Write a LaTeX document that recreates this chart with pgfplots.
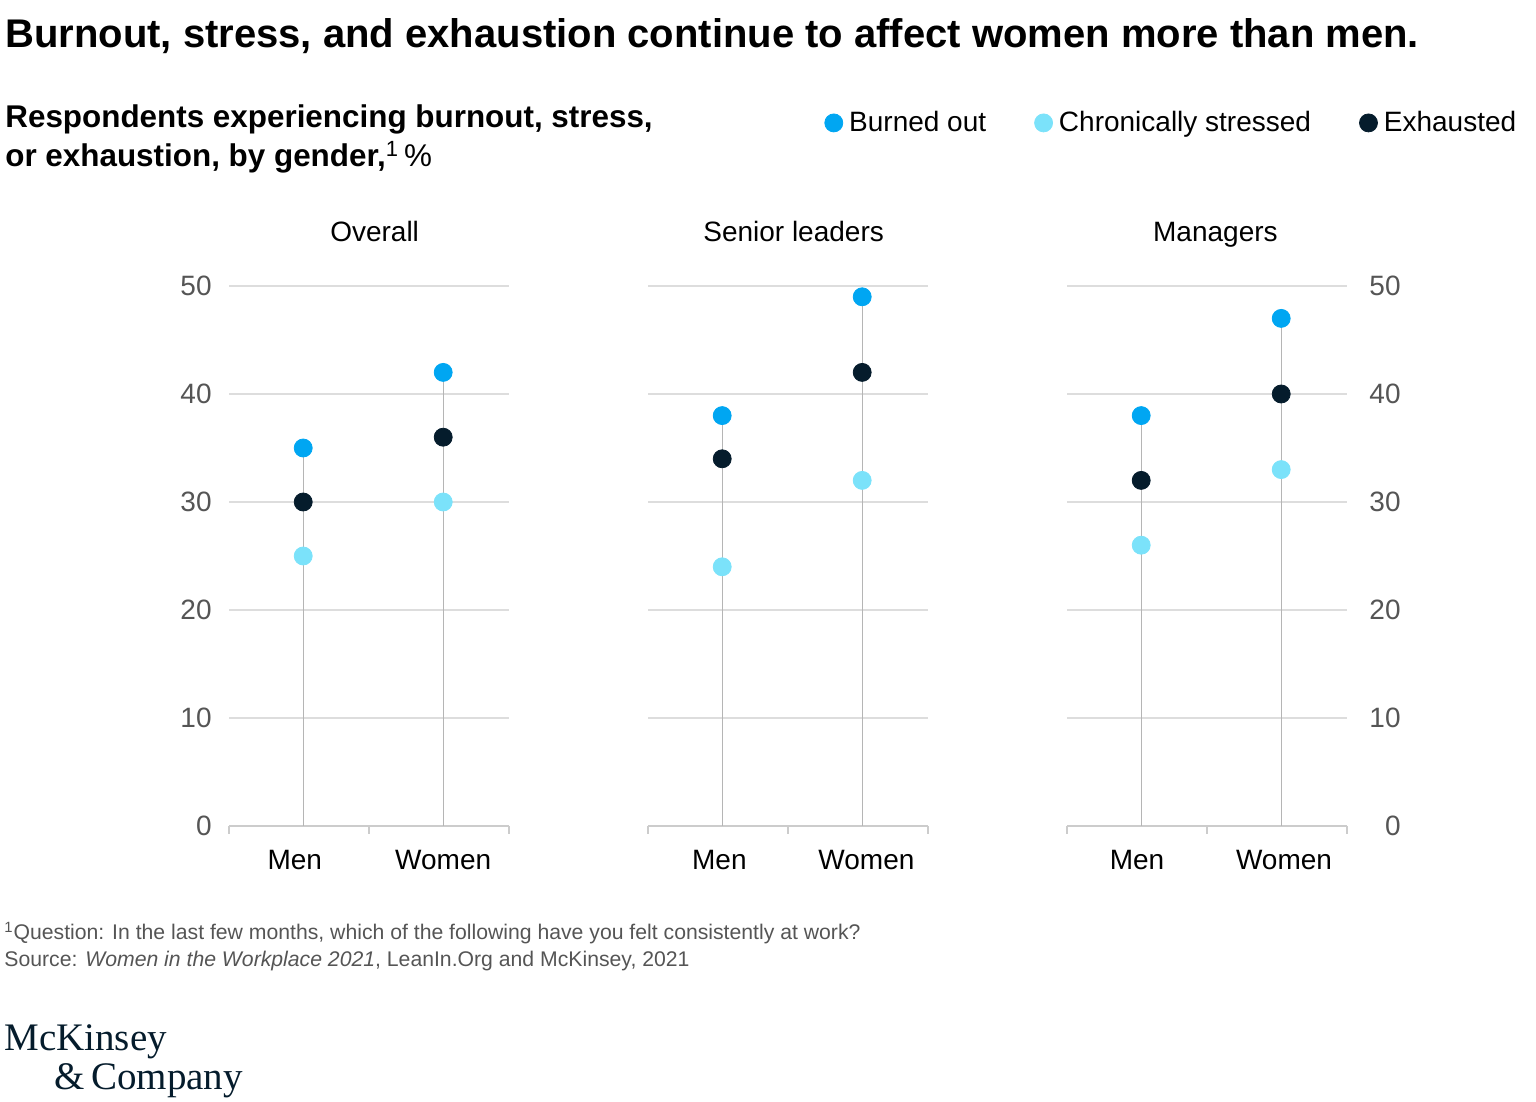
\documentclass[border=0pt]{standalone}
\usepackage{pgfplots}
\pgfplotsset{compat=1.18}
\usepackage{fontspec}
\setmainfont{Liberation Sans}
\newfontfamily\logofont{Liberation Serif}
\definecolor{burn}{HTML}{00A6F2}
\definecolor{stress}{HTML}{7BE2FA}
\definecolor{exh}{HTML}{051C2C}
\definecolor{gridc}{HTML}{DDDDDD}
\definecolor{stemc}{HTML}{B5B5B5}
\definecolor{ticklab}{HTML}{555555}
\definecolor{axc}{HTML}{CCCCCC}
\pgfplotsset{
  panel/.style={
    scale only axis, width=140pt, height=270pt,
    xmin=0, xmax=2, ymin=0, ymax=50, clip=false,
    axis x line*=bottom,
    y axis line style={draw=none},
    x axis line style={draw=axc, line width=0.6pt},
    xtick={0,1,2}, xticklabels={}, xtick align=outside,
    major tick length=4pt,
    xtick style={draw=axc, line width=0.6pt},
    ytick={0,10,20,30,40,50}, ytick style={draw=none},
    ymajorgrids, grid style={draw=gridc, line width=0.6pt},
    extra x tick labels={Men,Women},
    extra x tick style={major tick length=0pt, grid=none,
      xticklabel style={font=\fontsize{14}{16}\selectfont, text=black, anchor=north, inner sep=0pt, yshift=-12pt}},
    yticklabel style={font=\fontsize{14}{16}\selectfont, text=ticklab, inner sep=0pt},
    /pgf/number format/assume math mode=true,
    title style={font=\fontsize{14}{16}\selectfont, anchor=base, inner sep=0pt, yshift=16pt},
  },
  dot/.style={only marks, mark=*, mark size=4.5pt, color=#1},
  stem/.style={ycomb, no marks, draw=stemc, line width=0.6pt, forget plot},
}
\begin{document}
\begin{tikzpicture}
\path[use as bounding box] (0,0) rectangle (768pt,551pt);
\node[anchor=base west, inner sep=0pt, font=\bfseries\fontsize{20}{24}\selectfont] at (2.5pt,527pt) {Burnout, stress, and exhaustion continue to affect women more than men.};
\node[anchor=base west, inner sep=0pt, font=\bfseries\fontsize{15.7}{18}\selectfont] at (2.5pt,487pt) {Respondents experiencing burnout, stress,};
\node[anchor=base west, inner sep=0pt, font=\bfseries\fontsize{15.7}{18}\selectfont] at (2.5pt,467.5pt) {or exhaustion, by gender,\textsuperscript{\normalfont 1}\,{\normalfont\%}};

% Overall
\begin{axis}[panel, at={(114.5pt,138pt)}, anchor=south west,
  axis y line*=left,
  extra x ticks={0.47,1.53},
  title={Overall}, title style={at={(axis description cs:0.52,1)}},
  yticklabel style={anchor=east, xshift=-8.5pt},
  legend columns=3,
  legend style={at={(axis description cs:2.125,1.302)}, anchor=west,
    draw=none, fill=none, inner sep=0pt,
    font=\fontsize{14}{16}\selectfont,
    nodes={inner sep=0pt},
    /tikz/every odd column/.append style={column sep=3pt},
    /tikz/every even column/.append style={column sep=24pt}},
  legend image code/.code={\fill[#1] (4.5pt,0pt) circle (4.5pt);},
]
\addplot[stem] coordinates {(0.53,35) (1.53,42)};
\addplot[dot=burn] coordinates {(0.53,35) (1.53,42)};
\addplot[dot=stress] coordinates {(0.53,25) (1.53,30)};
\addplot[dot=exh] coordinates {(0.53,30) (1.53,36)};
\legend{Burned out, Chronically stressed, Exhausted}
\end{axis}

% Senior leaders
\begin{axis}[panel, at={(324pt,138pt)}, anchor=south west,
  axis y line*=left,
  extra x ticks={0.51,1.56},
  title={Senior leaders}, title style={at={(axis description cs:0.52,1)}},
  yticklabels={},
]
\addplot[stem] coordinates {(0.53,38) (1.53,49)};
\addplot[dot=burn] coordinates {(0.53,38) (1.53,49)};
\addplot[dot=stress] coordinates {(0.53,24) (1.53,32)};
\addplot[dot=exh] coordinates {(0.53,34) (1.53,42)};
\end{axis}

% Managers
\begin{axis}[panel, at={(533.5pt,138pt)}, anchor=south west,
  axis y line*=right,
  extra x ticks={0.5,1.55},
  title={Managers}, title style={at={(axis description cs:0.53,1)}},
  yticklabel style={anchor=east, xshift=27pt},
]
\addplot[stem] coordinates {(0.53,38) (1.53,47)};
\addplot[dot=burn] coordinates {(0.53,38) (1.53,47)};
\addplot[dot=stress] coordinates {(0.53,26) (1.53,33)};
\addplot[dot=exh] coordinates {(0.53,32) (1.53,40)};
\end{axis}

\node[anchor=base west, inner sep=0pt, text=ticklab, font=\fontsize{10.6}{12}\selectfont] at (2pt,81pt) {\textsuperscript{1}Question: In the last few months, which of the following have you felt consistently at work?};
\node[anchor=base west, inner sep=0pt, text=ticklab, font=\fontsize{10.6}{12}\selectfont] at (2pt,67.5pt) {Source: \textit{Women in the Workplace 2021}, LeanIn.Org and McKinsey, 2021};

\node[anchor=base west, inner sep=0pt, text=exh, font=\logofont\fontsize{19.5}{20}\selectfont] at (2pt,25.5pt) {McKinsey};
\node[anchor=base west, inner sep=0pt, text=exh, font=\logofont\fontsize{19.5}{20}\selectfont] at (27pt,6pt) {\&\,Company};
\end{tikzpicture}
\end{document}
